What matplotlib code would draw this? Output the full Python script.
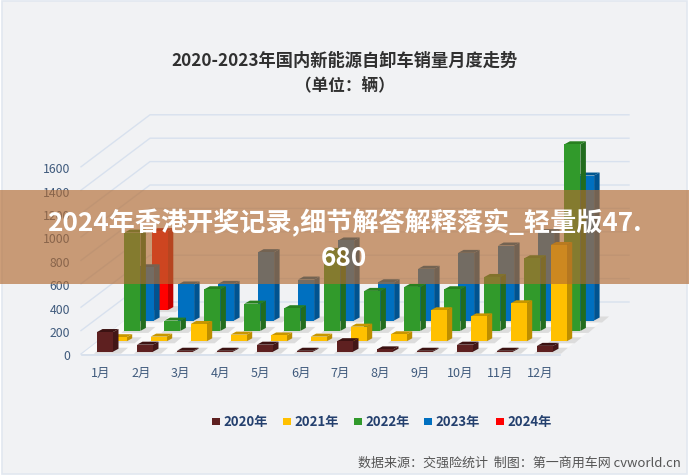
import matplotlib
matplotlib.use("Agg")
import matplotlib.pyplot as plt
from matplotlib.patches import Polygon, Rectangle

plt.rcParams['font.family'] = ['Noto Sans CJK SC', 'DejaVu Sans']

# values
months = ["1月", "2月", "3月", "4月", "5月", "6月", "7月", "8月", "9月", "10月", "11月", "12月"]
years = ["2020年", "2021年", "2022年", "2023年", "2024年"]
sales_2020 = [168, 60, 8, 8, 60, 8, 90, 20, 8, 60, 8, 50]
sales_2021 = [35, 40, 148, 57, 50, 40, 125, 60, 265, 213, 325, 823]
sales_2022 = [840, 88, 356, 233, 194, 684, 342, 376, 356, 461, 621, 1595]
sales_2023 = [455, 308, 313, 584, 350, 684, 327, 442, 578, 641, 755, 1239]
sales_2024 = [675]
y_ticks = [0, 200, 400, 600, 800, 1000, 1200, 1400, 1600]

fronts = ["#5e2020", "#ffc000", "#319a2b", "#0070c0", "#ff0000"]
sides = ["#421616", "#bd8e00", "#226c1e", "#005390", "#bf0000"]
tops = ["#3c1212", "#c79600", "#27801f", "#00568f", "#c00000"]

# oblique projection of the 3d chart, in pixels
X0, Y0 = 97, 352.7      # front left corner of first bar
MONTH_DX = 40
ROW_DX, ROW_DY = 13.7, 10.4
BAR_W = 16
DEPTH_X, DEPTH_Y = 5.5, 3
PX_PER_UNIT = 0.117
BASE_Y = 355

fig = plt.figure(figsize=(6.89, 4.77), dpi=100)
ax = fig.add_axes([0, 0, 1, 1])
ax.set_xlim(0, 689)
ax.set_ylim(477, 0)
ax.axis("off")

ax.add_patch(Rectangle((2, 2), 685, 473, fc="#f1f2f4", ec="#e2e8f0", lw=1.2))

# wall and floor lines
for v in y_ticks:
    y = BASE_Y - v * PX_PER_UNIT
    ax.plot([81, 150, 629], [y, y - 52, y - 52], color="#d8e1ee", lw=1, zorder=1)
    ax.text(70, y + 2, str(v), ha="right", va="center", fontsize=8.8, color="#3f5a7c")

ax.add_patch(Polygon([(82, 355), (560, 355), (607, 318), (129, 318)], fc="#f9f9f9", ec="none", zorder=1.5))
ax.plot([82, 560], [355.5, 355.5], color="#d5deeb", lw=1.2, zorder=1.6)


def draw_bar(month, row, value, order):
    x = X0 + month * MONTH_DX + row * ROW_DX
    y = Y0 - row * ROW_DY
    h = value * PX_PER_UNIT
    # soft floor shadow
    ax.add_patch(Polygon([(x - 3, y + 2), (x + BAR_W + 8, y + 2),
                          (x + BAR_W + 15, y - 4), (x + 4, y - 4)],
                         fc="#dcdcdc", ec="none", zorder=order - 0.1))
    ax.add_patch(Polygon([(x + BAR_W, y), (x + BAR_W + DEPTH_X, y - DEPTH_Y),
                          (x + BAR_W + DEPTH_X, y - h - DEPTH_Y), (x + BAR_W, y - h)],
                         fc=sides[row], ec="none", zorder=order))
    ax.add_patch(Polygon([(x, y - h), (x + DEPTH_X, y - h - DEPTH_Y),
                          (x + BAR_W + DEPTH_X, y - h - DEPTH_Y), (x + BAR_W, y - h)],
                         fc=tops[row], ec="none", zorder=order))
    ax.add_patch(Rectangle((x, y - h), BAR_W, h, fc=fronts[row], ec="none", zorder=order))


# back rows first
all_rows = [sales_2020, sales_2021, sales_2022, sales_2023, sales_2024]
for row in range(4, -1, -1):
    for m, val in enumerate(all_rows[row]):
        draw_bar(m, row, val, 2 + (4 - row))

for i, m in enumerate(months):
    ax.text(101 + i * 39.9, 373, m, ha="center", va="center", fontsize=9, color="#3f5a7c")

# legend
legend_x = [212, 283, 354, 424, 496]
for lx, name, c in zip(legend_x, years, fronts):
    ax.add_patch(Rectangle((lx, 418.5), 7.5, 7.5, fc=c, ec="none"))
    ax.text(lx + 11, 422.5, name, ha="left", va="center", fontsize=9.5, fontweight="bold", color="#24406e")

ax.text(345, 61, "2020-2023年国内新能源自卸车销量月度走势", ha="center", va="center",
        fontsize=12.4, fontweight="bold", color="#303030")
ax.text(345, 86, "（单位：辆）", ha="center", va="center", fontsize=12, fontweight="bold", color="#303030")
ax.text(681, 463, "数据来源：交强险统计  制图：第一商用车网 cvworld.cn", ha="right", va="center",
        fontsize=9.4, color="#555555")

# banner over the chart
ax.add_patch(Rectangle((0, 191), 689, 94, fc=(178 / 255, 107 / 255, 50 / 255), alpha=0.65, ec="none", zorder=20))
ax.text(344, 223, "2024年香港开奖记录,细节解答解释落实_轻量版47.", ha="center", va="center",
        fontsize=18.8, fontweight="bold", color="white", zorder=21)
ax.text(344, 259, "680", ha="center", va="center", fontsize=18.8, fontweight="bold", color="white", zorder=21)

fig.savefig("out.png", dpi=100)
